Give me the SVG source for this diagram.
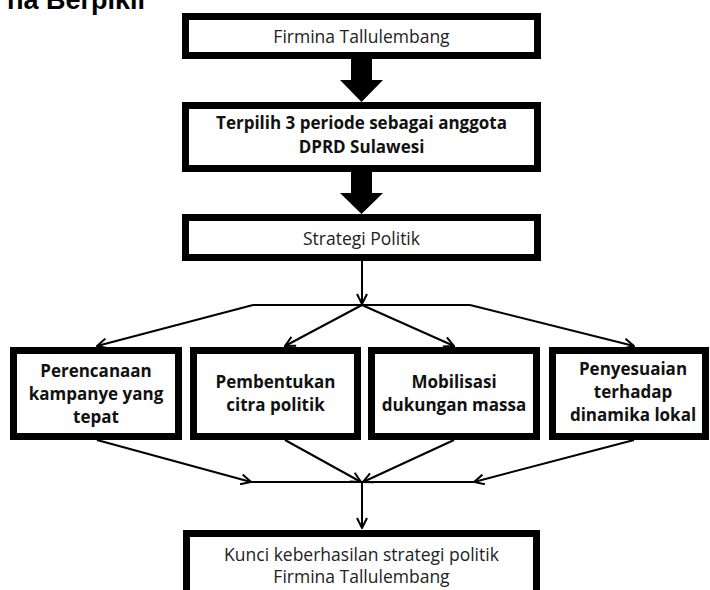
<svg xmlns="http://www.w3.org/2000/svg" width="710" height="590" viewBox="0 0 710 590">
<style>
.box{fill:#fff;stroke:#000;stroke-width:7}
.t{font-family:"Open Sans","Noto Sans","DejaVu Sans",sans-serif;font-size:17.5px;fill:#222;text-anchor:middle}
.b{font-weight:bold;font-size:17px;fill:#111}
.c{fill:none;stroke:#000;stroke-width:2}
.big{fill:#000}
</style>
<defs>
<marker id="ah" viewBox="0 0 12 12" refX="11" refY="6" markerWidth="12" markerHeight="12" markerUnits="userSpaceOnUse" orient="auto">
<path d="M1,1 L11,6 L1,11" fill="none" stroke="#000" stroke-width="2"/>
</marker>
</defs>
<rect width="710" height="590" fill="#fff"/>
<text x="148" y="9" font-family="Liberation Sans, Arial, sans-serif" font-weight="bold" font-size="27" text-anchor="end" fill="#000">na Berpikir</text>
<g id="connectors">
<polygon class="big" points="351,59 372,59 372,80 383,80 361.5,102 340,80 351,80"/>
<polygon class="big" points="351,172 372,172 372,193 383,193 361.5,214 340,193 351,193"/>
<line class="c" x1="362" y1="261" x2="362" y2="304" marker-end="url(#ah)"/>
<line class="c" x1="253" y1="305" x2="470" y2="305"/>
<line class="c" x1="253" y1="305" x2="97" y2="346" marker-end="url(#ah)"/>
<line class="c" x1="362" y1="305" x2="285" y2="346" marker-end="url(#ah)"/>
<line class="c" x1="362" y1="305" x2="454" y2="346" marker-end="url(#ah)"/>
<line class="c" x1="470" y1="305" x2="634" y2="346" marker-end="url(#ah)"/>
<line class="c" x1="97" y1="440" x2="251" y2="482" marker-end="url(#ah)"/>
<line class="c" x1="285" y1="440" x2="361" y2="482" marker-end="url(#ah)"/>
<line class="c" x1="454" y1="440" x2="363" y2="482" marker-end="url(#ah)"/>
<line class="c" x1="634" y1="440" x2="474" y2="482" marker-end="url(#ah)"/>
<line class="c" x1="251" y1="482" x2="474" y2="482"/>
<line class="c" x1="362" y1="482" x2="362" y2="528" marker-end="url(#ah)"/>
</g>
<g id="n1"><rect class="box" x="185.5" y="16.5" width="352" height="39"/><text class="t" x="361.5" y="43">Firmina Tallulembang</text></g>
<g id="n2"><rect class="box" x="185.5" y="105.5" width="352" height="63"/><text class="t b" x="361.5" y="129">Terpilih 3 periode sebagai anggota</text><text class="t b" x="361.5" y="153">DPRD Sulawesi</text></g>
<g id="n3"><rect class="box" x="185.5" y="217.5" width="352" height="40"/><text class="t" x="361.5" y="245">Strategi Politik</text></g>
<g id="n4"><rect class="box" x="13.5" y="350.5" width="165" height="86"/><text class="t b" x="96" y="377">Perencanaan</text><text class="t b" x="96" y="400">kampanye yang</text><text class="t b" x="96" y="423">tepat</text></g>
<g id="n5"><rect class="box" x="193.5" y="350.5" width="164" height="86"/><text class="t b" x="275.5" y="388">Pembentukan</text><text class="t b" x="275.5" y="411">citra politik</text></g>
<g id="n6"><rect class="box" x="371.5" y="350.5" width="165" height="86"/><text class="t b" x="454" y="388">Mobilisasi</text><text class="t b" x="454" y="411">dukungan massa</text></g>
<g id="n7"><rect class="box" x="552.5" y="350.5" width="153" height="86"/><text class="t b" x="633" y="375">Penyesuaian</text><text class="t b" x="633" y="398">terhadap</text><text class="t b" x="633" y="421">dinamika lokal</text></g>
<g id="n8"><rect class="box" x="186.5" y="533.5" width="350" height="80"/><text class="t" x="361.5" y="561">Kunci keberhasilan strategi politik</text><text class="t" x="361.5" y="583">Firmina Tallulembang</text></g>
</svg>
